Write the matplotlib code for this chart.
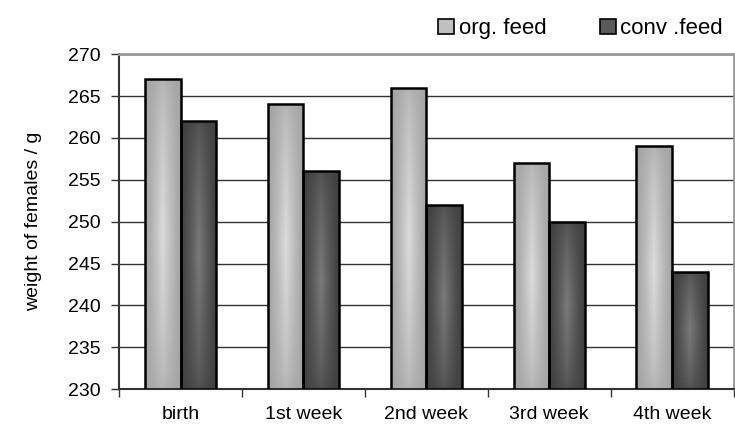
import numpy as np
import matplotlib
matplotlib.use("Agg")
import matplotlib.pyplot as plt
from matplotlib.colors import LinearSegmentedColormap
from matplotlib.patches import Patch

plt.rcParams['font.family'] = ['Liberation Sans', 'DejaVu Sans']

categories = ["birth", "1st week", "2nd week", "3rd week", "4th week"]
org_feed = [267, 264, 266, 257, 259]
conv_feed = [262, 256, 252, 250, 244]
series_names = ["org. feed", "conv .feed"]
yticks = [230, 235, 240, 245, 250, 255, 260, 265, 270]

fig = plt.figure(figsize=(7.35, 4.3), dpi=100)
ax = fig.add_axes([0.162, 0.095, 0.836, 0.779])

x = np.arange(len(categories))
w = 0.29
b1 = ax.bar(x - w / 2, [v - 230 for v in org_feed], w, bottom=230,
            facecolor='#b0b0b0', edgecolor='black', linewidth=1.8, zorder=3)
b2 = ax.bar(x + w / 2, [v - 230 for v in conv_feed], w, bottom=230,
            facecolor='#4a4a4a', edgecolor='black', linewidth=1.8, zorder=3)

cmap_org = LinearSegmentedColormap.from_list('org', ['#a4a4a4', '#dcdcdc'])
cmap_conv = LinearSegmentedColormap.from_list('conv', ['#404040', '#7a7a7a'])

# 2D gradient: light center, strongest in the vertical middle of each bar
nx, ny = 80, 120
tx = np.linspace(0, 1, nx)
ty = np.linspace(0, 1, ny)
TX, TY = np.meshgrid(tx, ty)
hx = np.clip(1 - np.abs(2 * TX - 1), 0, 1) ** 1.2
vy = np.clip(1 - np.abs(2 * TY - 1), 0, 1) ** 0.6
grad = 0.25 * hx + 0.75 * hx * vy

for bars, cmap in ((b1, cmap_org), (b2, cmap_conv)):
    for p in bars:
        x0, y0 = p.get_x(), p.get_y()
        im = ax.imshow(grad, cmap=cmap, vmin=0, vmax=1,
                       extent=(x0, x0 + p.get_width(), y0, y0 + p.get_height()),
                       aspect='auto', origin='lower', zorder=3.5, interpolation='bilinear')
        im.set_clip_path(p)
        p.set_facecolor('none')
        p.set_zorder(4)

ax.set_xlim(-0.5, len(categories) - 0.5)
ax.set_ylim(230, 270)
ax.set_yticks(yticks)
ax.set_xticks(x)
ax.set_xticklabels(categories)
ax.set_xticks(np.arange(len(categories) + 1) - 0.5, minor=True)
ax.tick_params(axis='x', which='major', length=0, pad=12, labelsize=14)
ax.tick_params(axis='x', which='minor', length=6, width=1, color='#333333')
ax.tick_params(axis='y', length=6, width=1, color='#333333', labelsize=14, pad=7)
ax.yaxis.grid(True, color='#333333', linewidth=1, zorder=0)
ax.set_axisbelow(True)
ax.set_ylabel("weight of females / g", fontsize=14, labelpad=19)

for s in ('left', 'bottom'):
    ax.spines[s].set_color('#333333')
    ax.spines[s].set_linewidth(1.5)
for s in ('top', 'right'):
    ax.spines[s].set_color('#999999')
    ax.spines[s].set_linewidth(2)

handles = [Patch(facecolor='#c0c0c0', edgecolor='black', linewidth=1.2),
           Patch(facecolor='#5a5a5a', edgecolor='black', linewidth=1.2)]
fig.legend(handles, series_names, loc='center', bbox_to_anchor=(0.79, 0.933), ncol=2,
           frameon=False, fontsize=16, handlelength=0.72, handleheight=0.72,
           handletextpad=0.2, columnspacing=2.4, borderpad=0)

fig.savefig("out.png", dpi=100)
